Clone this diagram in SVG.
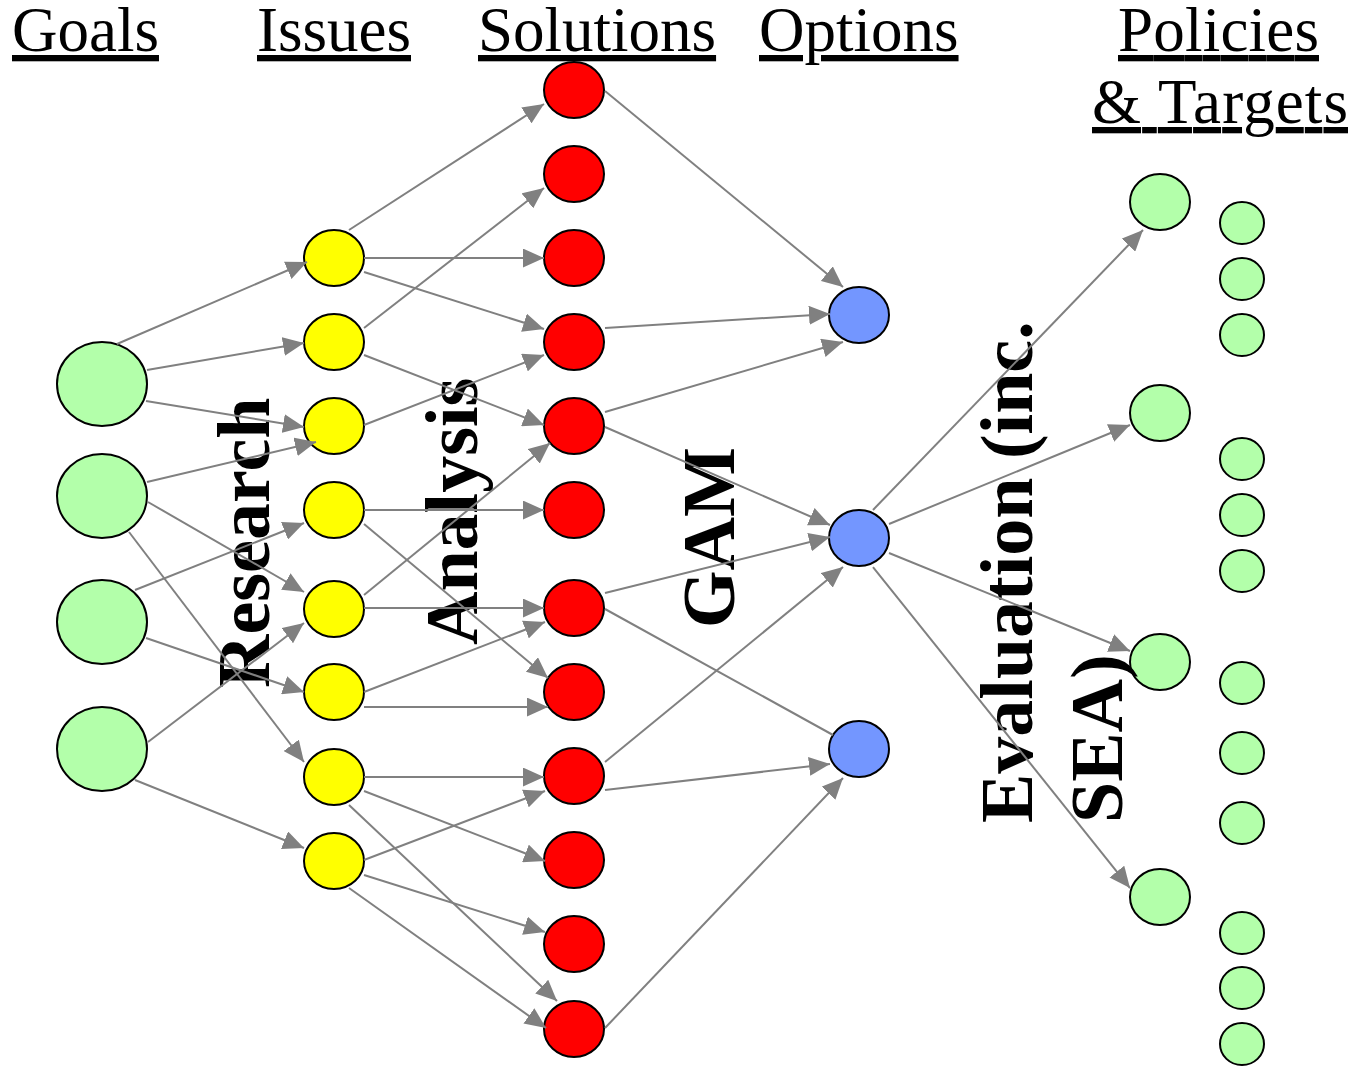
<svg xmlns="http://www.w3.org/2000/svg" width="1357" height="1068" viewBox="0 0 1357 1068">
<defs>
<style>
.n{stroke:#000;stroke-width:2}
.g{fill:#b3ffaa}
.y{fill:#ffff00}
.r{fill:#ff0000}
.b{fill:#7396ff}
.e{stroke:#808080;stroke-width:2;fill:none}
.a{marker-end:url(#arr)}
.h{font-family:"Liberation Serif","Times New Roman",serif;font-size:63px;text-decoration:underline;fill:#000}
.l{font-family:"Liberation Serif","Times New Roman",serif;font-size:74px;font-weight:bold;fill:#000}
</style>
<marker id="arr" viewBox="0 0 20 18" refX="20" refY="9" markerWidth="21" markerHeight="19" markerUnits="userSpaceOnUse" orient="auto">
<path d="M0,0 L20,9 L0,18 z" fill="#808080"/>
</marker>
</defs>
<rect width="1357" height="1068" fill="#fff"/>
<g id="headers">
<text class="h" x="12" y="51">Goals</text>
<text class="h" x="257" y="51">Issues</text>
<text class="h" x="478" y="51">Solutions</text>
<text class="h" x="759" y="51">Options</text>
<text class="h" x="1118" y="51" textLength="201" lengthAdjust="spacing">Policies</text>
<text class="h" x="1092" y="123" textLength="256" lengthAdjust="spacing">&amp; Targets</text>
</g>
<g id="goals">
<ellipse id="G1" class="n g" cx="102" cy="384" rx="45" ry="42"/>
<ellipse id="G2" class="n g" cx="102" cy="496" rx="45" ry="42"/>
<ellipse id="G3" class="n g" cx="102" cy="622" rx="45" ry="42"/>
<ellipse id="G4" class="n g" cx="102" cy="749" rx="45" ry="42"/>
</g>
<g id="issues">
<ellipse id="I1" class="n y" cx="334" cy="258" rx="30" ry="28"/>
<ellipse id="I2" class="n y" cx="334" cy="342" rx="30" ry="28"/>
<ellipse id="I3" class="n y" cx="334" cy="426" rx="30" ry="28"/>
<ellipse id="I4" class="n y" cx="334" cy="510" rx="30" ry="28"/>
<ellipse id="I5" class="n y" cx="334" cy="609" rx="30" ry="28"/>
<ellipse id="I6" class="n y" cx="334" cy="692" rx="30" ry="28"/>
<ellipse id="I7" class="n y" cx="334" cy="777" rx="30" ry="28"/>
<ellipse id="I8" class="n y" cx="334" cy="861" rx="30" ry="28"/>
</g>
<g id="solutions">
<ellipse id="S1" class="n r" cx="574" cy="90" rx="30" ry="28"/>
<ellipse id="S2" class="n r" cx="574" cy="174" rx="30" ry="28"/>
<ellipse id="S3" class="n r" cx="574" cy="258" rx="30" ry="28"/>
<ellipse id="S4" class="n r" cx="574" cy="342" rx="30" ry="28"/>
<ellipse id="S5" class="n r" cx="574" cy="426" rx="30" ry="28"/>
<ellipse id="S6" class="n r" cx="574" cy="510" rx="30" ry="28"/>
<ellipse id="S7" class="n r" cx="574" cy="608" rx="30" ry="28"/>
<ellipse id="S8" class="n r" cx="574" cy="692" rx="30" ry="28"/>
<ellipse id="S9" class="n r" cx="574" cy="776" rx="30" ry="28"/>
<ellipse id="S10" class="n r" cx="574" cy="860" rx="30" ry="28"/>
<ellipse id="S11" class="n r" cx="574" cy="944" rx="30" ry="28"/>
<ellipse id="S12" class="n r" cx="574" cy="1029" rx="30" ry="28"/>
</g>
<g id="options">
<ellipse id="O1" class="n b" cx="859" cy="315" rx="30" ry="28"/>
<ellipse id="O2" class="n b" cx="859" cy="538" rx="30" ry="28"/>
<ellipse id="O3" class="n b" cx="859" cy="749" rx="30" ry="28"/>
</g>
<g id="policies">
<ellipse id="P1" class="n g" cx="1160" cy="202" rx="30" ry="28"/>
<ellipse id="P2" class="n g" cx="1160" cy="413" rx="30" ry="28"/>
<ellipse id="P3" class="n g" cx="1160" cy="662" rx="30" ry="28"/>
<ellipse id="P4" class="n g" cx="1160" cy="897" rx="30" ry="28"/>
</g>
<g id="targets">
<ellipse id="T1" class="n g" cx="1242" cy="223" rx="22" ry="21"/>
<ellipse id="T2" class="n g" cx="1242" cy="279" rx="22" ry="21"/>
<ellipse id="T3" class="n g" cx="1242" cy="335" rx="22" ry="21"/>
<ellipse id="T4" class="n g" cx="1242" cy="459" rx="22" ry="21"/>
<ellipse id="T5" class="n g" cx="1242" cy="515" rx="22" ry="21"/>
<ellipse id="T6" class="n g" cx="1242" cy="571" rx="22" ry="21"/>
<ellipse id="T7" class="n g" cx="1242" cy="683" rx="22" ry="21"/>
<ellipse id="T8" class="n g" cx="1242" cy="753" rx="22" ry="21"/>
<ellipse id="T9" class="n g" cx="1242" cy="823" rx="22" ry="21"/>
<ellipse id="T10" class="n g" cx="1242" cy="933" rx="22" ry="21"/>
<ellipse id="T11" class="n g" cx="1242" cy="988" rx="22" ry="21"/>
<ellipse id="T12" class="n g" cx="1242" cy="1044" rx="22" ry="21"/>
</g>
<g id="labels">
<text class="l" transform="translate(269,688) rotate(-90)">Research</text>
<text class="l" transform="translate(477,645) rotate(-90)">Analysis</text>
<text class="l" transform="translate(734,628) rotate(-90)">GAM</text>
<text class="l" transform="translate(1032,823) rotate(-90)"><tspan x="0" y="0">Evaluation (inc.</tspan><tspan x="0" y="90">SEA)</tspan></text>
</g>
<g id="connectors">
<line class="e a" x1="117" y1="344" x2="307" y2="262"/>
<line class="e a" x1="147" y1="370" x2="304" y2="343"/>
<line class="e a" x1="146" y1="401" x2="304" y2="427"/>
<line class="e a" x1="147" y1="482" x2="316" y2="442"/>
<line class="e a" x1="148" y1="502" x2="304" y2="592"/>
<line class="e a" x1="129" y1="532" x2="304" y2="762"/>
<line class="e a" x1="135" y1="590" x2="304" y2="523"/>
<line class="e a" x1="146" y1="638" x2="304" y2="692"/>
<line class="e a" x1="148" y1="742" x2="304" y2="623"/>
<line class="e a" x1="135" y1="780" x2="304" y2="848"/>
<line class="e a" x1="349" y1="230" x2="544" y2="104"/>
<line class="e a" x1="364" y1="258" x2="544" y2="258"/>
<line class="e a" x1="364" y1="272" x2="544" y2="329"/>
<line class="e a" x1="364" y1="328" x2="544" y2="188"/>
<line class="e a" x1="364" y1="355" x2="544" y2="425"/>
<line class="e a" x1="364" y1="425" x2="544" y2="355"/>
<line class="e a" x1="364" y1="510" x2="544" y2="510"/>
<line class="e a" x1="364" y1="524" x2="548" y2="678"/>
<line class="e a" x1="364" y1="595" x2="550" y2="443"/>
<line class="e a" x1="364" y1="608" x2="544" y2="608"/>
<line class="e a" x1="364" y1="692" x2="545" y2="622"/>
<line class="e a" x1="364" y1="707" x2="548" y2="707"/>
<line class="e a" x1="364" y1="777" x2="544" y2="777"/>
<line class="e a" x1="364" y1="791" x2="545" y2="861"/>
<line class="e a" x1="349" y1="805" x2="557" y2="1001"/>
<line class="e a" x1="364" y1="860" x2="545" y2="791"/>
<line class="e a" x1="364" y1="875" x2="545" y2="932"/>
<line class="e a" x1="349" y1="888" x2="546" y2="1028"/>
<line class="e a" x1="605" y1="91" x2="843" y2="287"/>
<line class="e a" x1="605" y1="328" x2="830" y2="314"/>
<line class="e a" x1="605" y1="412" x2="843" y2="342"/>
<line class="e a" x1="605" y1="427" x2="830" y2="525"/>
<line class="e a" x1="605" y1="593" x2="830" y2="537"/>
<line class="e" x1="605" y1="609" x2="833" y2="735"/>
<line class="e a" x1="605" y1="762" x2="843" y2="567"/>
<line class="e a" x1="605" y1="790" x2="830" y2="764"/>
<line class="e a" x1="605" y1="1028" x2="843" y2="778"/>
<line class="e a" x1="873" y1="510" x2="1143" y2="230"/>
<line class="e a" x1="889" y1="524" x2="1130" y2="425"/>
<line class="e a" x1="889" y1="553" x2="1130" y2="651"/>
<line class="e a" x1="873" y1="567" x2="1130" y2="888"/>
</g>
</svg>
